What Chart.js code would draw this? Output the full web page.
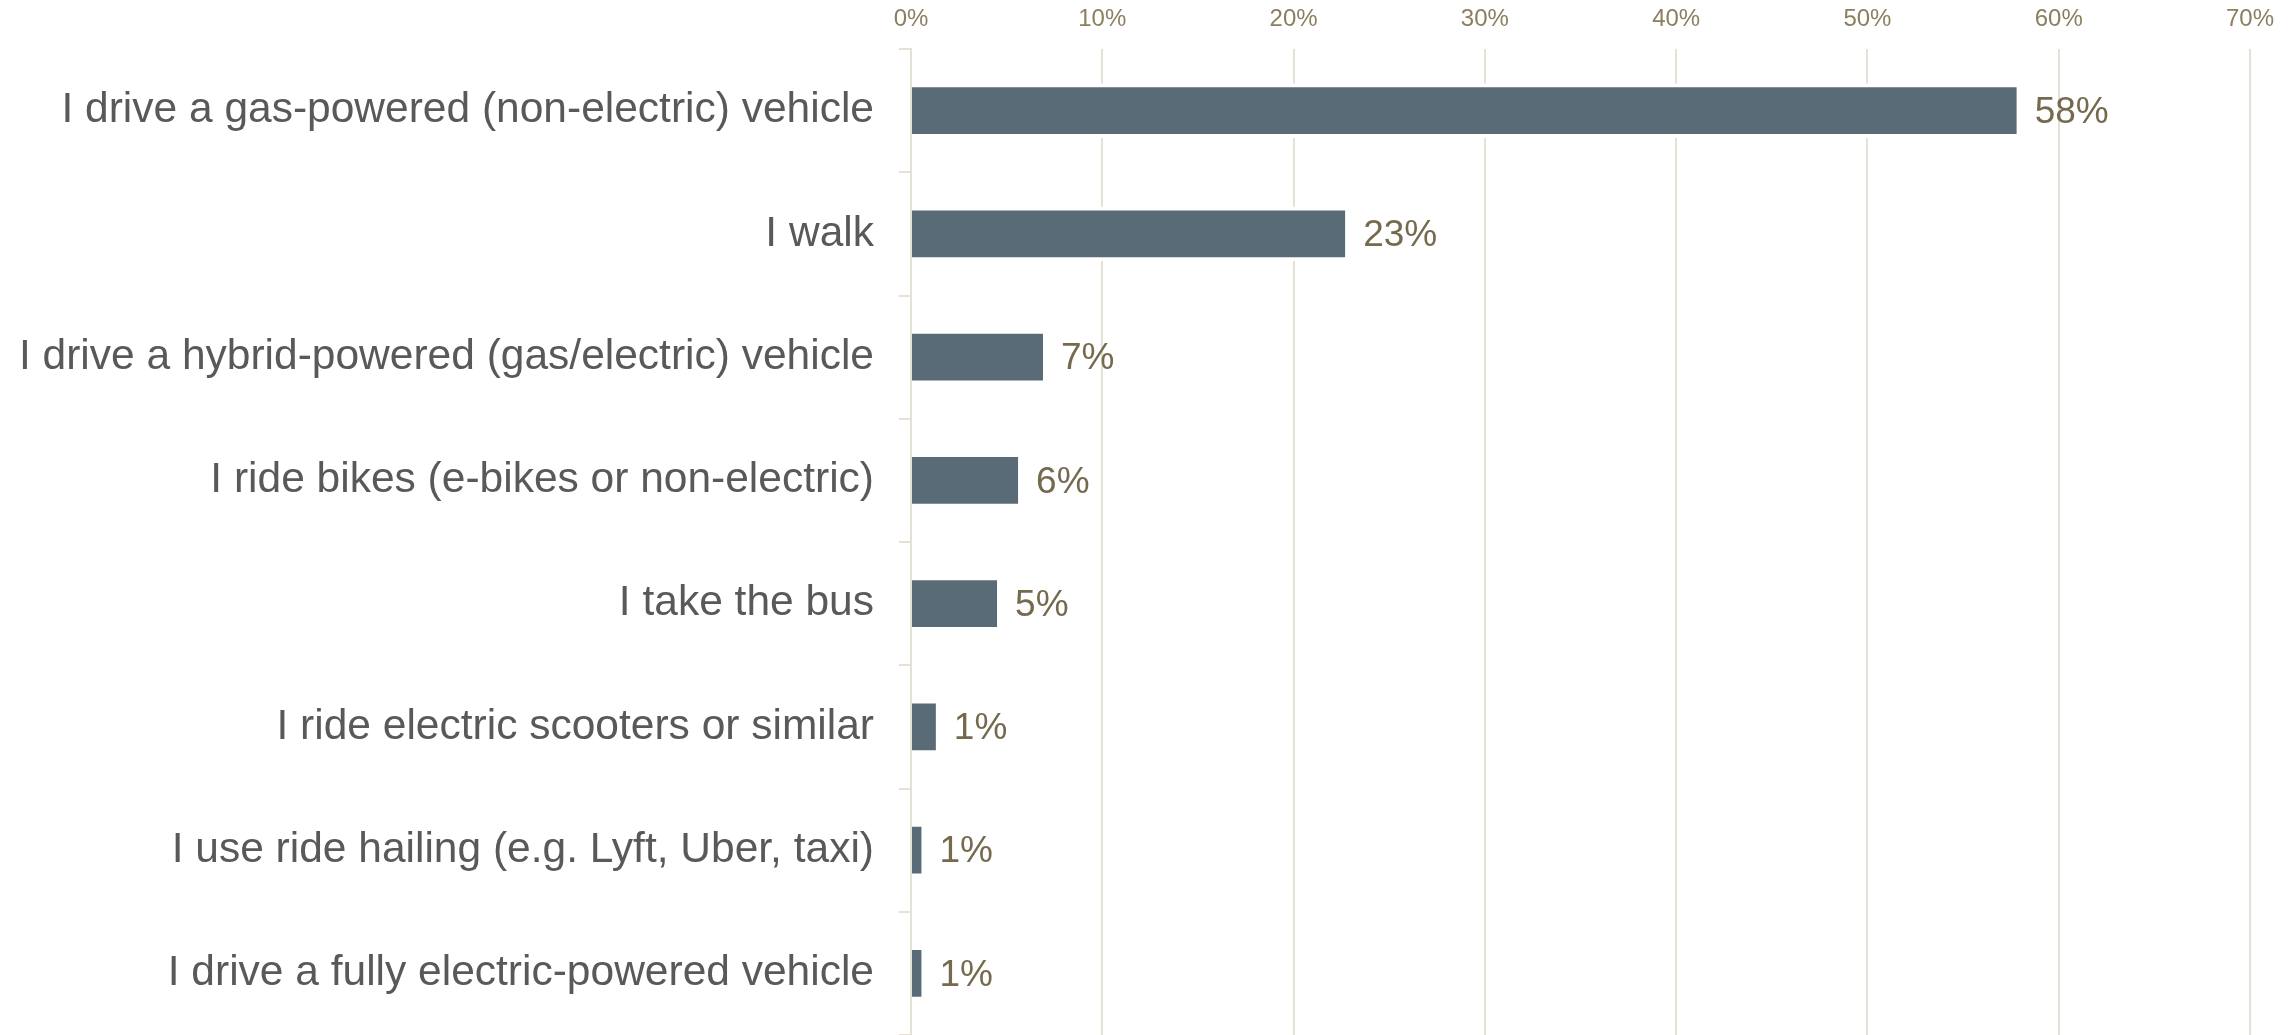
<!DOCTYPE html>
<html>
<head>
<meta charset="utf-8">
<script src="https://cdn.jsdelivr.net/npm/chart.js@4"></script>
<style>
  html, body { margin: 0; padding: 0; background: #ffffff; }
  #wrap { width: 2295px; height: 1035px; }
</style>
</head>
<body>
<div id="wrap"><canvas id="chart" width="2295" height="1035"></canvas></div>
<script>
const categories = [
  'I drive a gas-powered (non-electric) vehicle',
  'I walk',
  'I drive a hybrid-powered (gas/electric) vehicle',
  'I ride bikes (e-bikes or non-electric)',
  'I take the bus',
  'I ride electric scooters or similar',
  'I use ride hailing (e.g. Lyft, Uber, taxi)',
  'I drive a fully electric-powered vehicle'
];
const shares = [57.8, 22.7, 6.9, 5.6, 4.5, 1.3, 0.55, 0.55];
const xTicks = [0, 10, 20, 30, 40, 50, 60, 70];

const FONT = '"Liberation Sans", Arial, sans-serif';

// value labels to the right of each bar
const valueLabels = {
  id: 'valueLabels',
  afterDatasetsDraw(chart) {
    const ctx = chart.ctx;
    const meta = chart.getDatasetMeta(0);
    ctx.save();
    ctx.font = '37px ' + FONT;
    ctx.fillStyle = '#756a4e';
    ctx.textAlign = 'left';
    ctx.textBaseline = 'middle';
    meta.data.forEach((bar, i) => {
      ctx.fillText(Math.round(shares[i]) + '%', bar.x + 18, bar.y + 2);
    });
    ctx.restore();
  }
};

new Chart(document.getElementById('chart'), {
  type: 'bar',
  data: {
    labels: categories,
    datasets: [{
      data: shares,
      backgroundColor: '#5a6b78',
      borderColor: '#ffffff',
      borderWidth: { top: 4, bottom: 4, left: 0, right: 0 },
      borderSkipped: false,
      barThickness: 54
    }]
  },
  options: {
    indexAxis: 'y',
    responsive: false,
    animation: false,
    layout: { padding: { left: 0, right: 45, top: 0, bottom: 0 } },
    plugins: {
      legend: { display: false },
      tooltip: { enabled: false }
    },
    scales: {
      x: {
        position: 'top',
        min: 0,
        max: 70,
        afterBuildTicks: (scale) => { scale.ticks = xTicks.map(v => ({ value: v })); },
        afterFit: (scale) => { scale.height = 49; },
        grid: { color: '#e5e1d6', lineWidth: 2, drawTicks: false },
        border: { display: false },
        ticks: {
          padding: 15,
          color: '#8b7f60',
          font: { family: FONT, size: 24 },
          callback: (v) => v + '%'
        }
      },
      y: {
        afterFit: (scale) => {
          scale.width = 911;
          scale.paddingTop = 0;
          scale.paddingBottom = 0;
        },
        grid: {
          drawOnChartArea: false,
          color: '#e5e1d6',
          lineWidth: 2,
          tickLength: 12,
          offset: true
        },
        border: { display: true, color: '#e5e1d6', width: 2 },
        ticks: {
          padding: 25,
          color: '#595959',
          font: { family: FONT, size: 42.5 }
        }
      }
    }
  },
  plugins: [valueLabels]
});
</script>
</body>
</html>
